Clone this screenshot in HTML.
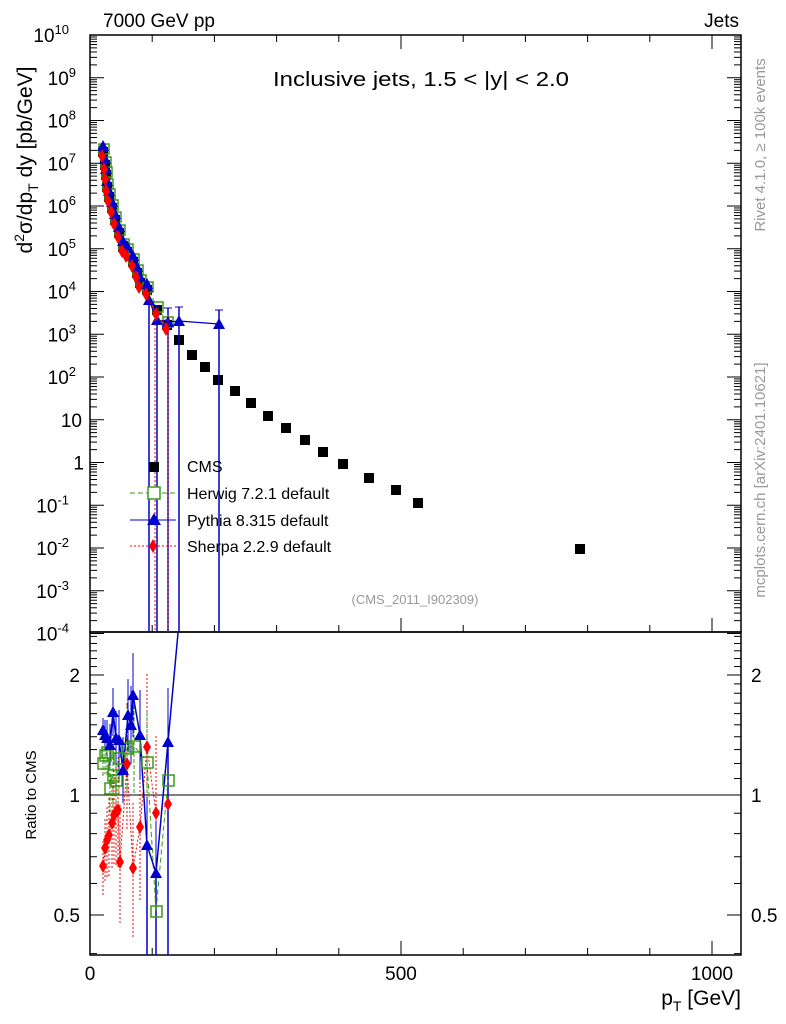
<!DOCTYPE html>
<html><head><meta charset="utf-8"><style>
html,body{margin:0;padding:0;background:#fff;}
svg{display:block;font-family:"Liberation Sans",sans-serif;}
</style></head><body>
<svg id="s" width="786" height="1024" xmlns="http://www.w3.org/2000/svg">
<rect width="786" height="1024" fill="#fff"/>
<g id="g"></g>
<text x="103" y="27" font-size="19">7000 GeV pp</text>
<text x="739" y="27" font-size="19" text-anchor="end">Jets</text>
<text x="421" y="86" font-size="20" text-anchor="middle" textLength="296" lengthAdjust="spacingAndGlyphs">Inclusive jets, 1.5 &lt; |y| &lt; 2.0</text>
<text x="415" y="604" font-size="13" fill="#999" text-anchor="middle">(CMS_2011_I902309)</text>
<text transform="translate(765,145) rotate(-90)" font-size="15" fill="#999" text-anchor="middle">Rivet 4.1.0, ≥ 100k events</text>
<text transform="translate(765,480) rotate(-90)" font-size="15" fill="#999" text-anchor="middle">mcplots.cern.ch [arXiv:2401.10621]</text>
<text transform="translate(32,160) rotate(-90)" font-size="21" text-anchor="middle">d<tspan font-size="14" dy="-8">2</tspan><tspan dy="8">σ/dp</tspan><tspan font-size="14" dy="6">T</tspan><tspan dy="-6"> dy [pb/GeV]</tspan></text>
<text transform="translate(36,795) rotate(-90)" font-size="15" text-anchor="middle">Ratio to CMS</text>
<text x="741" y="1005" font-size="21" text-anchor="end">p<tspan font-size="14" dy="6">T</tspan><tspan dy="-6"> [GeV]</tspan></text>
<text x="187" y="472" font-size="16">CMS</text>
<text x="187" y="499" font-size="16">Herwig 7.2.1 default</text>
<text x="187" y="526" font-size="16">Pythia 8.315 default</text>
<text x="187" y="552" font-size="16">Sherpa 2.2.9 default</text>
</svg>
<script>
const NS="http://www.w3.org/2000/svg",g=document.getElementById('g');
function el(t,a,txt){const e=document.createElementNS(NS,t);for(const k in a)e.setAttribute(k,a[k]);if(txt!==undefined)e.textContent=txt;g.appendChild(e);return e;}
const L=90,R=741,T=35,B=632,RB=955;
el('rect',{x:L,y:T,width:R-L,height:B-T,fill:'none',stroke:'#000','stroke-width':1.5});
el('rect',{x:L,y:B,width:R-L,height:RB-B,fill:'none',stroke:'#000','stroke-width':1.5});
const yd=e=>35+(10-e)*42.75;
for(let e=10;e>=-4;e--){const y=yd(e);
 el('line',{x1:L,x2:L+14,y1:y,y2:y,stroke:'#000'});el('line',{x1:R-14,x2:R,y1:y,y2:y,stroke:'#000'});
 for(let m=2;m<10&&e>-4;m++){const yy=yd(e-1+Math.log10(m));el('line',{x1:L,x2:L+7,y1:yy,y2:yy,stroke:'#000'});el('line',{x1:R-7,x2:R,y1:yy,y2:yy,stroke:'#000'});}
 let t=el('text',{x:e==1?L-8:L-6,y:y+7,'font-size':19,'text-anchor':'end'});
 if(e==0)t.textContent='1';else if(e==1)t.textContent='10';
 else{t.setAttribute('x',L-6-(String(e).length*7+1));t.textContent='10';const s=document.createElementNS(NS,'tspan');s.setAttribute('font-size','13');s.setAttribute('dy','-8');s.textContent=e;t.appendChild(s);}
}
const xp=v=>L+v*0.622;
for(let v=0;v<=1000;v+=100){const x=xp(v),big=v%500==0;
 el('line',{x1:x,x2:x,y1:B,y2:B-(big?14:7),stroke:'#000'});el('line',{x1:x,x2:x,y1:RB,y2:RB-(big?14:7),stroke:'#000'});
 el('line',{x1:x,x2:x,y1:T,y2:T+(big?14:7),stroke:'#000'});}
[[0,'0'],[500,'500'],[1000,'1000']].forEach(([v,s])=>el('text',{x:xp(v),y:980,'font-size':19,'text-anchor':'middle'},s));
const yr=r=>795-120*Math.log2(r);
[[2,'2'],[1,'1'],[0.5,'0.5']].forEach(([r,s])=>{const y=yr(r);el('text',{x:L-10,y:y+7,'font-size':19,'text-anchor':'end'},s);el('text',{x:R+10,y:y+7,'font-size':19},s);});
for(let r=0.4;r<2.6;r+=0.1){const y=yr(r);if(y<B||y>RB)continue;const big=Math.abs(r-1)<.01||Math.abs(r-2)<.01||Math.abs(r-.5)<.01;
 el('line',{x1:L,x2:L+(big?14:7),y1:y,y2:y,stroke:'#000'});el('line',{x1:R-(big?14:7),x2:R,y1:y,y2:y,stroke:'#000'});}
el('line',{x1:L,x2:R,y1:795,y2:795,stroke:'#000'});
const low=[[103,152],[105,165],[106,175],[107,187],[109,197],[112,208],[115,220],[119,233],[123,247],[127,252],[133,262],[137,273],[140,283],[147,290],[157,310],[167,325]];
const hi=[[179,340],[192,355],[205,367],[218,380],[235,391],[251,403],[268,416],[286,428],[305,440],[323,452],[343,464],[369,478],[396,490],[418,503],[580,549]];
[...low,...hi].forEach(([x,y])=>el('rect',{x:x-5,y:y-5,width:10,height:10,fill:'#000'}));
el('polyline',{points:low.map(([x,y])=>x+','+(y-3)).join(' '),fill:'none',stroke:'#3a9a1a','stroke-dasharray':'5,3'});
low.forEach(([x,y])=>el('rect',{x:x-4,y:y-8,width:10,height:10,fill:'none',stroke:'#3a9a1a','stroke-width':1.5}));
const py=[...low.slice(0,14).map(([x,y])=>[x,y-6]),[149,300],[157,320],[168,322],[179,321],[219,324]];
el('polyline',{points:py.map(p=>p.join(',')).join(' '),fill:'none',stroke:'#00c','stroke-width':1.3});
py.forEach(([x,y])=>el('path',{d:`M${x-6},${y+5}L${x+6},${y+5}L${x},${y-6}Z`,fill:'#00c'}));
[[149,305],[157,320],[168,322],[179,321],[219,324]].forEach(([x,y])=>{el('line',{x1:x,x2:x,y1:y-14,y2:B,stroke:'#00c','stroke-width':1.5});el('line',{x1:x-4,x2:x+4,y1:y-14,y2:y-14,stroke:'#00c'});});
const sh=low.map(([x,y])=>[x-1,y+4]);
el('polyline',{points:sh.map(p=>p.join(',')).join(' '),fill:'none',stroke:'#f00','stroke-dasharray':'2,2'});
sh.forEach(([x,y])=>el('path',{d:`M${x},${y-7}L${x+4},${y}L${x},${y+7}L${x-4},${y}Z`,fill:'#f00'}));
el('line',{x1:155,x2:155,y1:320,y2:B,stroke:'#f00','stroke-dasharray':'2,2'});
el('line',{x1:168,x2:168,y1:315,y2:B,stroke:'#f00','stroke-dasharray':'2,2'});
el('rect',{x:149,y:462,width:10,height:10,fill:'#000'});
el('line',{x1:130,x2:176,y1:493,y2:493,stroke:'#3a9a1a','stroke-dasharray':'5,3'});el('rect',{x:148,y:487,width:12,height:12,fill:'#fff',stroke:'#3a9a1a','stroke-width':1.5});
el('line',{x1:130,x2:176,y1:520,y2:520,stroke:'#00c'});el('path',{d:'M147,525L161,525L154,513Z',fill:'#00c'});
el('line',{x1:130,x2:176,y1:546,y2:546,stroke:'#f00','stroke-dasharray':'2,2'});el('path',{d:'M153,539L157,546L153,553L149,546Z',fill:'#f00'});
const rp=[[103,730],[105,735],[107,738],[110,745],[113,712],[116,738],[119,740],[123,770],[128,715],[131,725],[133,695],[140,735],[147,845],[156,873],[168,742]];
const rh=[[103,763],[105,755],[107,752],[110,788],[113,775],[116,780],[119,758],[127,748],[134,746],[147,762],[156,911],[168,780]];
const rs=[[103,866],[105,848],[107,840],[109,835],[112,823],[114,815],[116,812],[118,810],[120,862],[127,764],[133,868],[140,827],[147,747],[156,813],[168,804]];
rs.forEach(([x,y],i)=>el('line',{x1:x,x2:x,y1:y-25-i*4,y2:Math.min(RB,y+30+i*4),stroke:'#f00','stroke-dasharray':'2,2'}));
rh.forEach(([x,y],i)=>el('line',{x1:x,x2:x,y1:y-15-i*4,y2:Math.min(RB,y+15+i*4),stroke:'#3a9a1a','stroke-dasharray':'4,2'}));
rp.forEach(([x,y],i)=>{el('line',{x1:x,x2:x,y1:y-12-i*3,y2:Math.min(RB,y+12+i*3),stroke:'#00c'});});
el('line',{x1:147,x2:147,y1:845,y2:RB,stroke:'#00c','stroke-width':1.5});el('line',{x1:156,x2:156,y1:873,y2:RB,stroke:'#00c','stroke-width':1.5});el('line',{x1:168,x2:168,y1:742,y2:RB,stroke:'#00c','stroke-width':1.5});
el('polyline',{points:rs.map(p=>p.join(',')).join(' '),fill:'none',stroke:'#f00','stroke-dasharray':'2,2'});
el('polyline',{points:rh.map(p=>p.join(',')).join(' '),fill:'none',stroke:'#3a9a1a','stroke-dasharray':'5,3'});
el('polyline',{points:rp.map(p=>p.join(',')).join(' ')+' 178,633',fill:'none',stroke:'#00c','stroke-width':1.5});
rh.forEach(([x,y])=>el('rect',{x:x-5,y:y-5,width:11,height:11,fill:'none',stroke:'#3a9a1a','stroke-width':1.5}));
rp.forEach(([x,y])=>el('path',{d:`M${x-6},${y+5}L${x+6},${y+5}L${x},${y-6}Z`,fill:'#00c'}));
rs.forEach(([x,y])=>el('path',{d:`M${x},${y-7}L${x+4},${y}L${x},${y+7}L${x-4},${y}Z`,fill:'#f00'}));
</script>
</body></html>
